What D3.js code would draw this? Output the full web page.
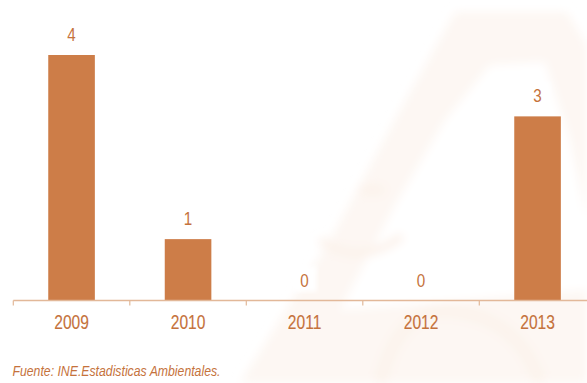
<!DOCTYPE html>
<html>
<head>
<meta charset="utf-8">
<script src="https://cdn.jsdelivr.net/npm/d3@7"></script>
<style>
  html, body { margin: 0; padding: 0; background: #ffffff; }
  svg { display: block; }
  text { font-family: "Liberation Sans", Arial, sans-serif; }
</style>
</head>
<body>
<svg id="chart" width="587" height="383"></svg>
<script>
// Data
const years = ["2009", "2010", "2011", "2012", "2013"];
const counts = [4, 1, 0, 0, 3];
const sourceNote = "Fuente: INE.Estadisticas Ambientales.";

const W = 587, H = 383;
const barColor = "#cd7d48";
const textColor = "#c5723c";
const axisColor = "#e2b899";

const svg = d3.select("#chart");

// Very faint background emblem
const defs = svg.append("defs");
defs.append("filter").attr("id", "soft")
  .append("feGaussianBlur").attr("stdDeviation", 5);
defs.append("filter").attr("id", "plate")
  .append("feGaussianBlur").attr("stdDeviation", 2);
const emblem = svg.append("g").attr("filter", "url(#soft)");
emblem.append("path")
  .attr("d", "M240,383 L330,240 L400,110 L455,12 L567,12 L587,45 L587,383 Z")
  .attr("fill", "#fdf7f3");
emblem.append("path")
  .attr("d", "M340,310 L395,205 L445,120 L490,65 L545,62 L570,140 L587,220 L587,290 L470,300 Z")
  .attr("fill", "#ffffff");
emblem.append("path")
  .attr("d", "M320,240 Q360,268 402,236")
  .attr("fill", "none").attr("stroke", "#fcf2eb").attr("stroke-width", 8);
emblem.append("ellipse").attr("cx", 372).attr("cy", 190).attr("rx", 14).attr("ry", 5)
  .attr("fill", "#fcf2eb");
emblem.append("path")
  .attr("d", "M380,383 Q400,300 460,312 Q520,322 540,383")
  .attr("fill", "none").attr("stroke", "#fcf3ec").attr("stroke-width", 12);

// Scales
const x = d3.scaleBand()
  .domain(years)
  .range([13.3, 595.8])
  .paddingInner(0.6)
  .paddingOuter(0.3);

const y = d3.scaleLinear()
  .domain([0, 4])
  .range([300.5, 55]);

const step = x.step();
const bandStart = d => x(d) - step * x.paddingOuter();

// Bars
svg.append("g").selectAll("rect")
  .data(years)
  .join("rect")
  .attr("x", d => x(d))
  .attr("width", x.bandwidth())
  .attr("y", (d, i) => y(counts[i]))
  .attr("height", (d, i) => y(0) - y(counts[i]))
  .attr("fill", barColor);

// Category axis: baseline running to the right edge, ticks at band boundaries
const axis = svg.append("g");
axis.append("line")
  .attr("x1", x.range()[0]).attr("x2", W)
  .attr("y1", y(0)).attr("y2", y(0))
  .attr("stroke", axisColor).attr("stroke-width", 1.5);
axis.selectAll("line.tick")
  .data(years)
  .join("line")
  .attr("class", "tick")
  .attr("x1", d => bandStart(d)).attr("x2", d => bandStart(d))
  .attr("y1", y(0)).attr("y2", y(0) + 5)
  .attr("stroke", axisColor).attr("stroke-width", 1.2);

// Year labels
axis.selectAll("text")
  .data(years)
  .join("text")
  .attr("transform", d => `translate(${x(d) + x.bandwidth() / 2},${329}) scale(0.8,1)`)
  .attr("text-anchor", "middle")
  .attr("font-size", 19.5)
  .attr("fill", textColor)
  .attr("stroke", textColor).attr("stroke-width", 0.12)
  .text(d => d);

// Value labels on small soft white plates
const vlab = svg.append("g").selectAll("g")
  .data(years)
  .join("g")
  .attr("transform", (d, i) => `translate(${x(d) + x.bandwidth() / 2},${y(counts[i]) - 14})`);
vlab.append("rect")
  .attr("x", -12).attr("y", -20).attr("width", 24).attr("height", 25)
  .attr("fill", "#ffffff")
  .attr("filter", "url(#plate)");
vlab.append("text")
  .attr("transform", "scale(0.8,1)")
  .attr("text-anchor", "middle")
  .attr("font-size", 19)
  .attr("fill", textColor)
  .text((d, i) => counts[i]);

// Source note
svg.append("text")
  .attr("x", 12.5)
  .attr("y", 376)
  .attr("font-size", 14.5)
  .attr("font-style", "italic")
  .attr("fill", textColor)
  .attr("textLength", 208)
  .attr("lengthAdjust", "spacingAndGlyphs")
  .text(sourceNote);
</script>
</body>
</html>
